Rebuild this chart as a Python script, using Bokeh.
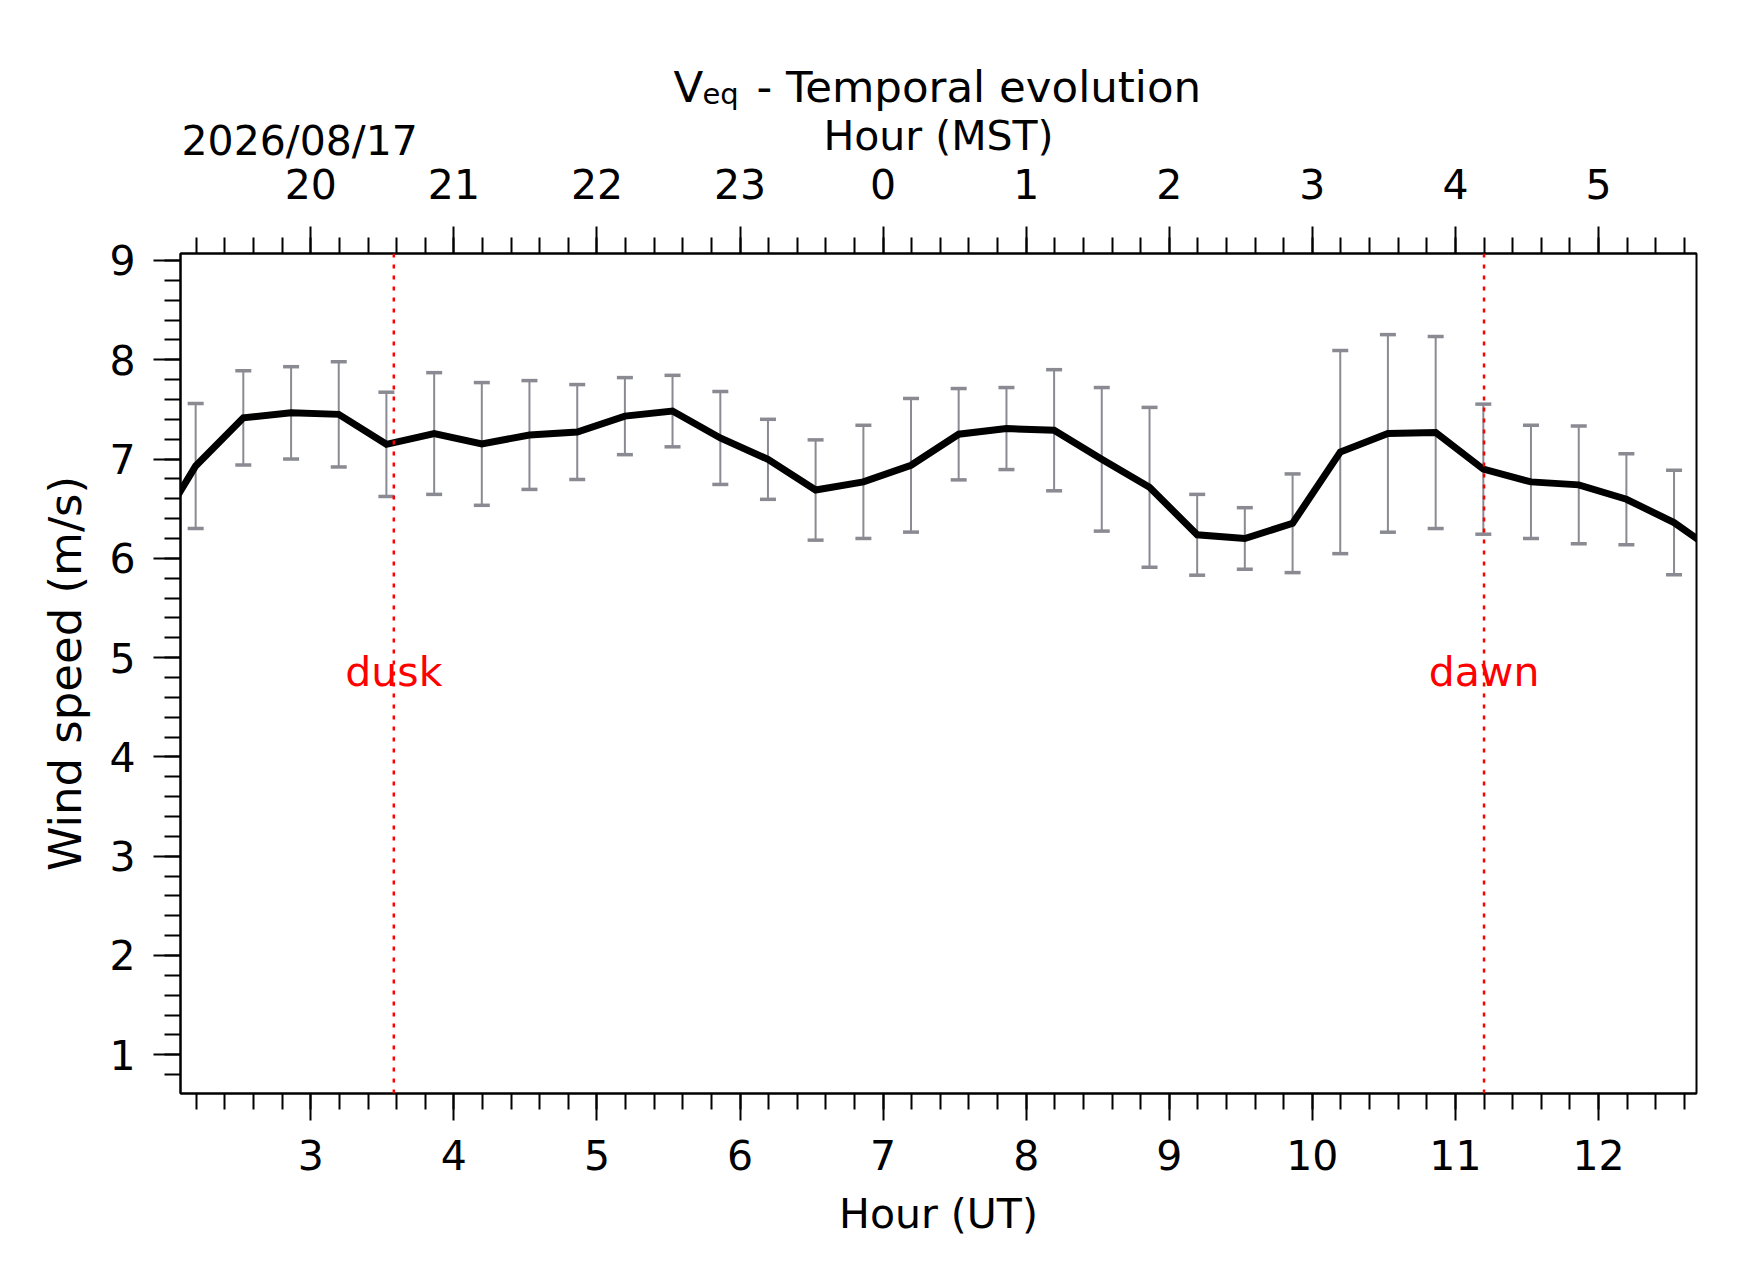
from bokeh.embed import file_html
from bokeh.resources import INLINE
from bokeh.models import (ColumnDataSource, Range1d, LinearAxis, FixedTicker, Label, Span)
from bokeh.plotting import figure

# UT hour of each 20-minute bin (first and last ones fall outside the view)
ut_hour = [1.862, 2.195, 2.528, 2.862, 3.195, 3.528, 3.862, 4.195, 4.528, 4.862,
           5.195, 5.528, 5.862, 6.195, 6.528, 6.862, 7.195, 7.528, 7.862, 8.195,
           8.528, 8.862, 9.195, 9.528, 9.862, 10.195, 10.528, 10.862, 11.195, 11.528,
           11.862, 12.195, 12.528, 12.862]
wind_speed = [6.14, 6.93, 7.415, 7.465, 7.45, 7.148, 7.257, 7.152, 7.242, 7.272,
              7.432, 7.483, 7.212, 6.997, 6.688, 6.77, 6.937, 7.25, 7.307, 7.29,
              6.997, 6.715, 6.237, 6.20, 6.353, 7.07, 7.258, 7.267, 6.898, 6.77,
              6.74, 6.595, 6.36, 6.02]
wind_err = [0.5, 0.63, 0.475, 0.465, 0.53, 0.525, 0.613, 0.618, 0.548, 0.478,
            0.388, 0.36, 0.468, 0.403, 0.505, 0.57, 0.673, 0.46, 0.413, 0.61,
            0.723, 0.805, 0.407, 0.31, 0.497, 1.023, 0.995, 0.967, 0.655, 0.57,
            0.593, 0.459, 0.526, 0.5]

ut_ticks = [3, 4, 5, 6, 7, 8, 9, 10, 11, 12]
mst_labels = ["20", "21", "22", "23", "0", "1", "2", "3", "4", "5"]
speed_ticks = [1, 2, 3, 4, 5, 6, 7, 8, 9]

dusk_ut = 3.58
dawn_ut = 11.2
marker_text_y = 4.86
date_label = "2026/08/17"

FONT = "DejaVu Sans"

df = {
    "x": ut_hour,
    "y": wind_speed,
    "lo": [v - e for v, e in zip(wind_speed, wind_err)],
    "hi": [v + e for v, e in zip(wind_speed, wind_err)],
}
source = ColumnDataSource(df)

x0, x1 = 2.089, 12.685
y0, y1 = 0.61, 9.07

p = figure(
    x_range=Range1d(x0, x1), y_range=Range1d(y0, y1),
    frame_width=1516, frame_height=840,
    min_border_left=180, min_border_top=253, min_border_right=36, min_border_bottom=173,
    toolbar_location=None, tools="", output_backend="svg",
    x_axis_location="below",
)
p.xgrid.grid_line_color = None
p.ygrid.grid_line_color = None
p.outline_line_color = "black"
p.outline_line_width = 2
p.outline_line_alpha = 1
p.background_fill_color = "white"
p.border_fill_color = "white"

x_minor = [round(2.2 + 0.2 * i, 1) for i in range(53)]
y_minor = [round(0.8 + 0.2 * i, 1) for i in range(42)]


def style_axis(ax, label, label_size="41px"):
    ax.axis_label = label
    ax.axis_label_text_font = FONT
    ax.axis_label_text_font_size = label_size
    ax.axis_label_text_font_style = "normal"
    ax.axis_label_text_color = "black"
    ax.major_label_text_font = FONT
    ax.major_label_text_font_size = "41px"
    ax.major_label_text_color = "black"
    ax.axis_line_color = "black"
    ax.axis_line_width = 2
    ax.major_tick_line_color = "black"
    ax.major_tick_line_width = 2
    ax.minor_tick_line_color = "black"
    ax.minor_tick_line_width = 2
    ax.major_tick_in = 0
    ax.major_tick_out = 27
    ax.minor_tick_in = 0
    ax.minor_tick_out = 16


xb = p.xaxis[0]
xb.ticker = FixedTicker(ticks=ut_ticks, minor_ticks=x_minor)
style_axis(xb, "Hour (UT)")
xb.major_label_standoff = 19
xb.axis_label_standoff = 17

yl = p.yaxis[0]
yl.ticker = FixedTicker(ticks=speed_ticks, minor_ticks=y_minor)
style_axis(yl, "Wind speed (m/s)", "45px")
yl.major_label_standoff = 18
yl.axis_label_standoff = 14

xt = LinearAxis(ticker=FixedTicker(ticks=ut_ticks, minor_ticks=x_minor))
style_axis(xt, "Hour (MST)")
xt.major_label_overrides = {t: lab for t, lab in zip(ut_ticks, mst_labels)}
xt.major_label_standoff = 28
xt.axis_label_standoff = 6
p.add_layout(xt, "above")

# sunset / sunrise markers
for xv in (dusk_ut, dawn_ut):
    p.add_layout(Span(location=xv, dimension="height", line_color="red",
                      line_width=2.5, line_dash="4 7"))

# error bars
p.segment(x0="x", y0="lo", x1="x", y1="hi", source=source,
          line_color="#8a8a92", line_width=2)
p.scatter(x="x", y="lo", source=source, marker="dash", size=16,
          line_color="#8a8a92", line_width=3.5)
p.scatter(x="x", y="hi", source=source, marker="dash", size=16,
          line_color="#8a8a92", line_width=3.5)

p.line(x="x", y="y", source=source, line_color="black", line_width=7,
       line_join="miter")

for xv, txt in ((dusk_ut, "dusk"), (dawn_ut, "dawn")):
    p.add_layout(Label(x=xv, y=marker_text_y, text=txt, text_align="center",
                       text_baseline="alphabetic", text_color="red",
                       text_font=FONT, text_font_size="41px"))


def top_text(x, y, txt, size, place):
    # labels live in the side panels (so they are not clipped to the frame);
    # canvas units = pixels from the top-left corner of the canvas
    p.add_layout(Label(x=x, y=y, x_units="canvas", y_units="canvas", text=txt,
                       text_align="left", text_baseline="alphabetic",
                       text_font=FONT, text_font_size=size, text_color="black"),
                 place)


top_text(181, 140, date_label, "41px", "above")
# title: V with subscript "eq"
top_text(673, 86, "V", "43.5px", "left")
top_text(702, 93, "eq", "29px", "right")
top_text(756, 86, "- Temporal evolution", "43.5px", "above")

open("out.html", "w").write(file_html(p, INLINE))
